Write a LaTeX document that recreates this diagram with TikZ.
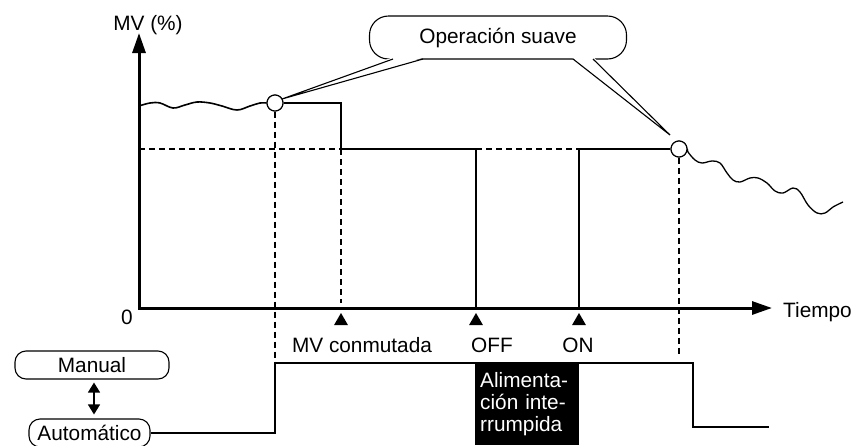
\documentclass[tikz,border=0pt]{standalone}
\usepackage{fontspec}
\setmainfont{Liberation Sans}
\usepackage{tikz}
\usetikzlibrary{arrows.meta,positioning,calc,shapes.geometric}

\begin{document}
\begin{tikzpicture}[
  x=1pt, y=-1pt,
  every node/.style={font=\fontsize{20.8}{22}\selectfont},
  axis/.style={line width=3pt, line cap=rect, -{Triangle[length=20pt,width=13pt]}},
  signal/.style={line width=2.6pt},
  thinsig/.style={line width=2pt},
  guide/.style={line width=2.2pt, dash pattern=on 6pt off 4pt},
  wave/.style={line width=1.6pt},
  knot/.style={circle, draw, line width=1.1pt, fill=white, minimum size=16pt, inner sep=0pt},
  evtri/.style={regular polygon, regular polygon sides=3, fill=black, minimum size=16pt, inner sep=0pt},
  evlabel/.style={anchor=base, inner sep=0pt},
  modebox/.style={draw, rounded corners=11pt, line width=1.1pt, minimum height=28pt, inner sep=0pt},
  bubble/.style={draw, rounded corners=19pt, line width=1.1pt, minimum width=257pt, minimum height=43pt},
  outage/.style={fill=black, text=white, text width=94pt, align=left, inner xsep=5pt,
                 minimum height=82pt, anchor=north west}
]
  \useasboundingbox (0,0) rectangle (855,445);

  % Axes
  \coordinate (o) at (139,308);
  \coordinate (ytop) at (139,33);
  \coordinate (xend) at (772,308);
  \node[anchor=base] (mvlab) at (148,30) {MV (\%)};
  \node[anchor=base west, inner sep=0pt] (tiempo) at (783,317) {Tiempo};
  \node[anchor=base, inner sep=0pt] (zero) at (127,324) {0};

  % Points on the curve
  \node[knot] (softL) at (275,103) {};
  \node[knot] (softR) at (679,149) {};
  \coordinate (sw) at (341,149);
  \coordinate (off) at (476,308);
  \coordinate (on) at (579,308);

  % Guide lines
  \draw[guide] (o |- sw) -- (sw);
  \draw[guide] (476,149) -- (579,149);
  \draw[guide] (softL.south) -- (275,367);
  \draw[guide] (341,149) -- (341,303);
  \draw[guide] (softR.south) -- (679,357);

  % MV signal
  \draw[wave] plot[smooth, tension=0.6] coordinates {(139,106) (150,103) (160,103) (173,108)
    (185,105) (197,102) (210,103) (222,106) (237,110) (250,106) (260,103) (softL.west)};
  \draw[signal] (softL.east) -- (341,103) -- (sw) -- (476,149);
  \draw[thinsig] (476,149) -- (off) -- (on) -- (579,149);
  \draw[signal] (579,149) -- (softR.west);
  \draw[wave, line width=1.3pt] plot[smooth, tension=0.6] coordinates {(softR.east) (688,152)
    (695,160) (702,163) (712,161) (720,163) (727,173) (733,180) (740,182) (750,178) (758,178)
    (767,183) (775,191) (783,193) (793,188) (800,192) (808,205) (817,213) (825,213) (833,207) (843,202)};
  \node[knot] at (softL) {};
  \node[knot] at (softR) {};

  \draw[axis] (o) -- (ytop);
  \draw[axis] (o) -- (xend);

  % Events
  \node[evtri] (tsw) at (341,321) {};
  \node[evtri] (toff) at (476,321) {};
  \node[evtri] (ton) at (579,321) {};
  \node[evlabel] (lsw) at (362,352) {MV conmutada};
  \node[evlabel] (loff) at (492,352) {OFF};
  \node[evlabel] (lon) at (578,352) {ON};

  % Mode signal
  \node[modebox, minimum width=154pt] (manual) at (92,365) {Manual};
  \node[modebox, minimum width=121pt] (auto) at (89.5,433) {Automático};
  \draw[line width=1.3pt, {Triangle[length=10pt,width=12pt]}-{Triangle[length=10pt,width=12pt]}]
    ([xshift=2pt,yshift=-3pt]manual.south) -- ([xshift=4.5pt,yshift=4pt]auto.north);
  \node[outage] (pwr) at (475,363) {Alimenta-\\ción inte-\\rrumpida};
  \draw[signal] (auto.east) -- (275,433) -- (275,363) -- (693,363) -- (693,427) -- (769,427);

  % Callout
  \node[bubble] (soft) at (498,37.5) {Operación suave};
  \fill[white] (392,57.5) -- (282,99) -- (424,57.5) -- cycle;
  \fill[white] (572,57.5) -- (670,135) -- (594,57.5) -- cycle;
  \draw[line width=1.1pt] (393,59) -- (282,99) -- (423,59);
  \draw[line width=1.1pt] (573,59) -- (670,135) -- (593,59);
\end{tikzpicture}
\end{document}
